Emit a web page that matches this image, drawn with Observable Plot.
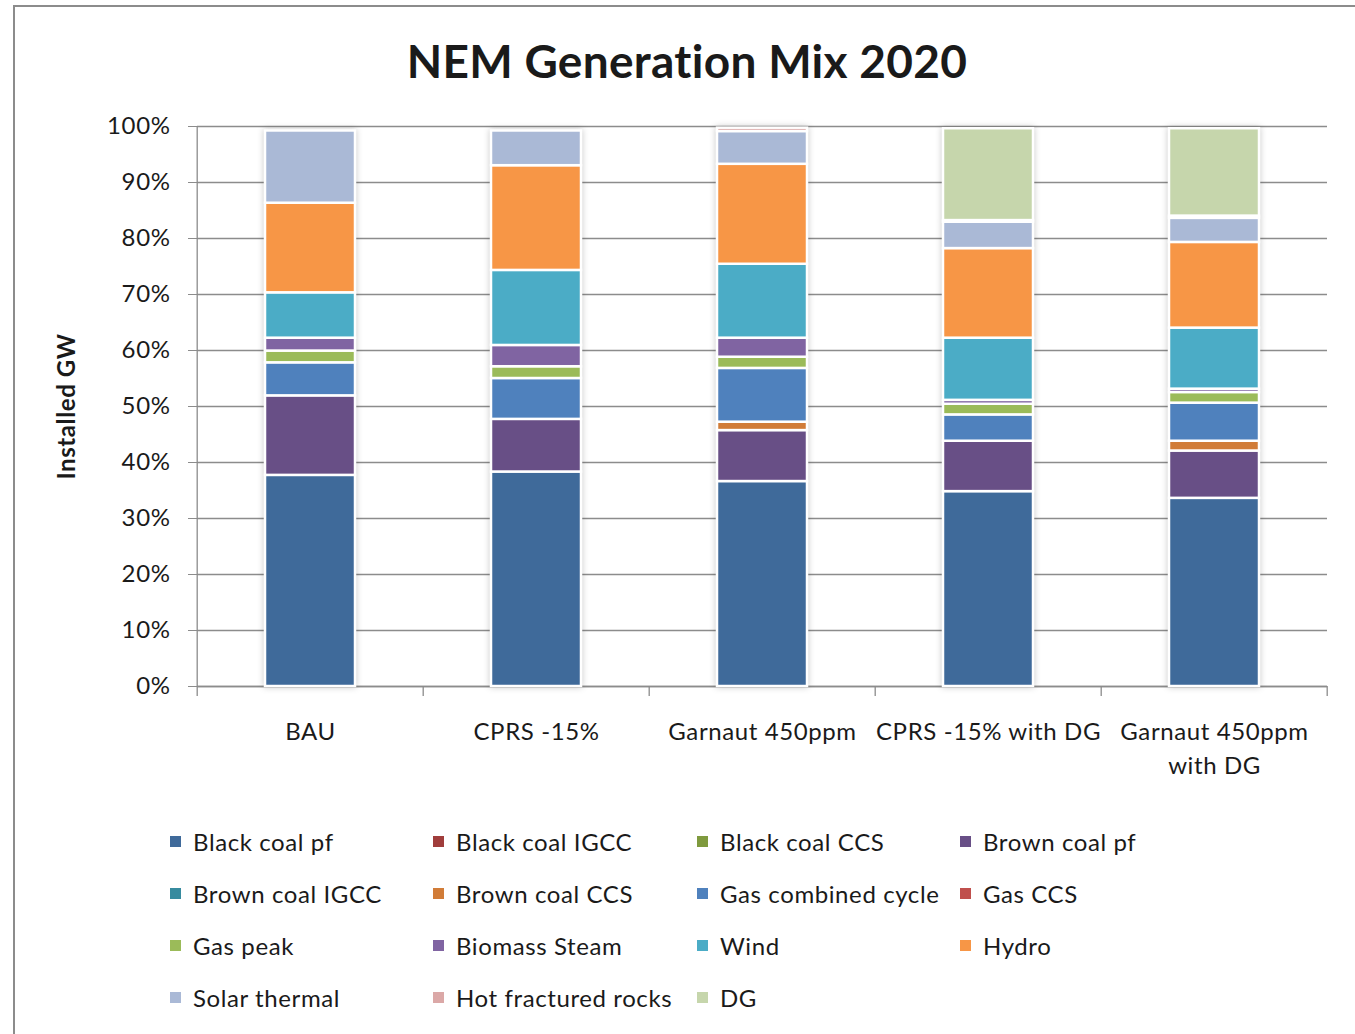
<!DOCTYPE html>
<html>
<head>
<meta charset="utf-8">
<script src="https://cdn.jsdelivr.net/npm/d3@7"></script>
<script src="https://cdn.jsdelivr.net/npm/@observablehq/plot@0.6"></script>
<style>
  body { margin: 0; background: #fff; font-family: Lato, "Open Sans", sans-serif; color: #1a1a1a; overflow: hidden; }
  #frame { position: absolute; left: 13px; top: 5px; width: 1500px; height: 1200px;
           border-left: 2px solid #8c8c8c; border-top: 2px solid #8c8c8c; }
  #title { position: absolute; left: 0; width: 1374px; top: 33px; text-align: center;
           font-weight: bold; font-size: 46px; line-height: 56px; letter-spacing: 0.3px; }
  #chart { position: absolute; left: 0; top: 100px; }
  #chart svg { font-family: Lato, "Open Sans", sans-serif; color: #1a1a1a; }
  #chart svg text { letter-spacing: 0.6px; }
  #chart g[aria-label="y-axis label"] text { font-weight: bold; }
  #chart g[aria-label="bar"] { filter: drop-shadow(0 0 3px rgba(0,0,0,0.22)); }
  #legend { position: absolute; left: 170px; top: 815px; display: grid;
            grid-template-columns: 263px 264px 263px 263px; grid-auto-rows: 52px;
            font-size: 24px; letter-spacing: 0.6px; }
  .item { display: flex; align-items: center; white-space: nowrap; }
  .swatch { width: 11px; height: 11px; margin-right: 12px; flex: none; }
</style>
</head>
<body>
<div id="frame"></div>
<div id="title">NEM Generation Mix 2020</div>
<div id="chart"></div>
<div id="legend"></div>
<script>
// Scenarios on the x axis
const scenarios = ["BAU", "CPRS -15%", "Garnaut 450ppm", "CPRS -15% with DG", "Garnaut 450ppm with DG"];

// Technologies, bottom of the stack first, with their fills
const technologies = [
  "Black coal pf", "Black coal IGCC", "Black coal CCS", "Brown coal pf",
  "Brown coal IGCC", "Brown coal CCS", "Gas combined cycle", "Gas CCS",
  "Gas peak", "Biomass Steam", "Wind", "Hydro",
  "Solar thermal", "Hot fractured rocks", "DG"
];
const techColors = [
  "#3f6a9a", "#a03d3b", "#7f9a3e", "#684f86",
  "#378b9f", "#d17c38", "#4f81bd", "#c0504d",
  "#9bbb59", "#8064a2", "#4bacc6", "#f79646",
  "#aab9d6", "#dba8a7", "#c6d6ac"
];

// Share of installed capacity (%) per scenario, in scenario order
const blackCoalPf      = [37.7, 38.3, 36.6, 34.8, 33.6];
const blackCoalIGCC    = [0, 0, 0, 0, 0];
const blackCoalCCS     = [0, 0, 0, 0, 0];
const brownCoalPf      = [14.2, 9.4, 9.1, 9.0, 8.45];
const brownCoalIGCC    = [0, 0, 0, 0, 0];
const brownCoalCCS     = [0, 0, 1.5, 0, 1.75];
const gasCombined      = [5.9, 7.3, 9.6, 4.7, 6.8];
const gasCCS           = [0, 0, 0, 0, 0];
const gasPeak          = [2.1, 2.1, 2.0, 1.9, 1.9];
const biomassSteam     = [2.3, 3.8, 3.4, 0.7, 0.6];
const wind             = [8.1, 13.4, 13.2, 11.1, 10.9];
const hydro            = [16.0, 18.7, 17.85, 16.0, 15.3];
const solarThermal     = [12.9, 6.2, 5.85, 4.7, 4.3];
const hotFracturedRock = [0, 0, 0.6, 0.3, 0.4];
const distributedGen   = [0, 0, 0, 16.4, 15.6];

// Y axis ticks
const yTicks = [0, 10, 20, 30, 40, 50, 60, 70, 80, 90, 100];

const series = [
  blackCoalPf, blackCoalIGCC, blackCoalCCS, brownCoalPf,
  brownCoalIGCC, brownCoalCCS, gasCombined, gasCCS,
  gasPeak, biomassSteam, wind, hydro,
  solarThermal, hotFracturedRock, distributedGen
];

const rows = technologies
  .flatMap((tech, i) => scenarios.map((scenario, j) => ({scenario, tech, value: series[i][j]})))
  .filter(d => d.value > 0);

const xLabel = d => d === "Garnaut 450ppm with DG" ? "Garnaut 450ppm\nwith DG" : d;

// Y axis line and the category separator ticks along the baseline
function categoryFrame(index, scales, values, dimensions) {
  const {x, y} = scales;
  const step = x(scenarios[1]) - x(scenarios[0]);
  const start = x(scenarios[0]) - 0.3 * step;
  const g = d3.create("svg:g").attr("stroke", "#8c8c8c").attr("stroke-width", 1.3);
  g.append("line")
    .attr("x1", start).attr("x2", start)
    .attr("y1", y(0)).attr("y2", y(100));
  for (let k = 0; k <= scenarios.length; k++) {
    const px = start + k * step;
    g.append("line").attr("x1", px).attr("x2", px).attr("y1", y(0)).attr("y2", y(0) + 10);
  }
  return g.node();
}

const chart = Plot.plot({
  width: 1355,
  height: 700,
  marginTop: 26,
  marginLeft: 197,
  marginRight: 28,
  marginBottom: 114,
  style: {fontSize: "24px", background: "transparent"},
  x: {domain: scenarios, paddingInner: 0.6, paddingOuter: 0.3, label: null},
  y: {domain: [0, 100], label: null},
  color: {domain: technologies, range: techColors},
  marks: [
    Plot.gridY(yTicks, {stroke: "#8c8c8c", strokeOpacity: 1, strokeWidth: 1.3}),
    Plot.ruleY([0], {stroke: "#8c8c8c", strokeWidth: 1.3}),
    categoryFrame,
    Plot.barY(rows, {x: "scenario", y: "value", fill: "tech", stroke: "white", strokeWidth: 2.5}),
    Plot.axisY(yTicks, {
      tickFormat: d => d + "%", tickSize: 9, tickPadding: 18, stroke: "#8c8c8c",
      fontSize: 24, fill: "#1a1a1a",
      label: "Installed GW", labelAnchor: "center", labelArrow: "none", labelOffset: 140
    }),
    Plot.axisX({tickSize: 0, tickPadding: 30, tickFormat: xLabel, fontSize: 24, lineHeight: 1.4, fill: "#1a1a1a", label: null})
  ]
});
document.getElementById("chart").append(chart);

// Legend in four columns, same order as the stack
const legend = d3.select("#legend");
technologies.forEach((tech, i) => {
  const item = legend.append("div").attr("class", "item");
  item.append("span").attr("class", "swatch").style("background", techColors[i]);
  item.append("span").text(tech);
});
</script>
</body>
</html>
